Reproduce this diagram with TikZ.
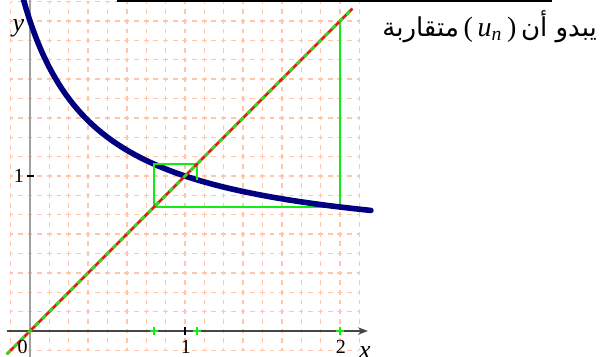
\documentclass[tikz,border=0pt]{standalone}
\usepackage{fontspec}
\setmainfont{Liberation Serif}
\newfontfamily\arabicfont[Script=Arabic]{DejaVu Sans}
\TeXXeTstate=1
\usetikzlibrary{arrows.meta}
\definecolor{gradeLaranja}{RGB}{255,198,172}
\definecolor{curvaAzul}   {RGB}{0,  0,  128}
\definecolor{teiaVerde}   {RGB}{20, 235, 20}
\definecolor{retaVermelha}{RGB}{235,20, 20}
\definecolor{eixoCinza}   {RGB}{160,160,160}
\definecolor{eixoEscuro}  {RGB}{70, 70, 70}

\begin{document}
\begin{tikzpicture}[x=2.7237cm,y=2.7237cm,
    grade/.style={gradeLaranja,line width=0.7pt,
                  dash pattern=on 2.42pt off 2.42pt,dash phase=1.21pt},
    teia/.style={teiaVerde,line width=1pt},
    marca/.style={teiaVerde,line width=1.2pt},
    rotulo/.style={font=\fontsize{10}{12}\selectfont,inner sep=0pt},
    rotuloeixo/.style={font=\fontsize{13}{15}\selectfont\itshape,inner sep=0pt}]
        \useasboundingbox (-0.19355,-0.16129) rectangle (3.6774,2.13548);
        % Grade
        \foreach \i in {-1,...,17}{
          \draw[grade] (\i/8,-0.125)--(\i/8,2.125);
          \draw[grade] (-0.125,\i/8)--(2.125,\i/8);
        }
        % Eixos
        \draw[eixoCinza,line width=1pt] (0,-0.17)--(0,2.14);
        \draw[-{Stealth[length=5pt]},eixoEscuro,line width=0.9pt]
          (-0.15,0)--(2.18,0);
        \foreach \x in {1,2}{
          \draw[black,line width=0.6pt] (\x,-0.026)--(\x,0.026);
        }
        \draw[black,line width=0.6pt] (-0.02,1)--(0.026,1);

        % Teia (primeira parte)
        \draw[teia] (2,2)--(2,0.8)--(0.8,0.8);
        % Curva
        \draw[curvaAzul,line width=2.8pt,domain=-0.045:2.2,samples=120,
              line cap=round]
          plot (\x,{(\x+2)/(2*\x+1)});
        % Teia (segunda parte)
        \draw[teia] (0.8,0.8)--(0.8,1.0769)--(1.0769,1.0769)--(1.0769,0.9756);
        % Reta y = x
        \draw[retaVermelha,line width=1.3pt] (-0.15,-0.15)--(2.08,2.08);
        \draw[teiaVerde,line width=1.3pt,dash pattern=on 2.5pt off 2.5pt]
          (-0.15,-0.15)--(2.08,2.08);
        % Marcas dos termos
        \foreach \u in {0.8,1.0769,2}{
          \draw[marca] (\u-0.026,0)--(\u+0.026,0);
          \draw[marca] (\u,-0.026)--(\u,0.026);
        }

        % Rotulos
        \node[rotulo] (zero) at (-0.048,-0.103){0};
        \node[rotulo] (umx) at (1.006,-0.103){1};
        \node[rotulo] (doisx) at (2.006,-0.103){2};
        \node[rotuloeixo] (eixox) at (2.16,-0.14){x};
        \node[rotuloeixo] (eixoy) at (-0.075,1.955){y};
        \node[rotulo] (umy) at (-0.071,1.0){1};

        % Traco no topo
        \draw[black,line width=1.2pt] (0.561,2.129)--(3.368,2.129);

        % Frase
        \node[inner sep=0pt,anchor=base east,font=\fontsize{14}{16}\selectfont]
          (frase) at (3.66,1.90)
          {{\fontsize{13}{15}\selectfont\arabicfont\beginR متقاربة\endR}\,(\,\textit{u}\textsubscript{\textit{n}}\,)\,{\fontsize{13}{15}\selectfont\arabicfont\beginR أن\endR\ \beginR يبدو\endR}};
      \end{tikzpicture}
\end{document}
